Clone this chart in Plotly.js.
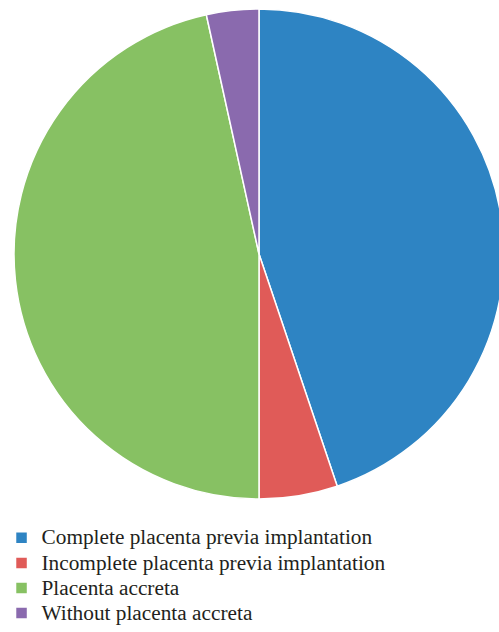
<!DOCTYPE html>
<html><head><meta charset="utf-8">
<script src="https://cdn.plot.ly/plotly-3.0.1.min.js"></script>
<style>html,body{margin:0;padding:0;overflow:hidden;background:#fff;width:499px;height:632px}
.legendtext{font-size:21.3px !important}</style>
</head><body><div id="chart"></div>
<script>
const categories = ["Complete placenta previa implantation","Incomplete placenta previa implantation","Placenta accreta","Without placenta accreta"];
const values = [26, 3, 27, 2];
const colors = ["#2e84c3","#e05b58","#87c163","#8a6aae"];

const data = [{
  type: "pie",
  labels: categories,
  values: values,
  sort: false,
  direction: "clockwise",
  rotation: 0,
  textinfo: "none",
  hoverinfo: "label+value",
  marker: {colors: colors, line: {color: "#ffffff", width: 1.5}},
  domain: {x: [0, 1], y: [0.2135, 1]}
}];
const layout = {
  width: 510, height: 632,
  margin: {l: 14, r: 6, t: 9, b: 0, autoexpand: false},
  paper_bgcolor: "#fff",
  showlegend: true,
  legend: {
    xref: "container", yref: "container",
    x: 0.003, y: 0.1768, xanchor: "left", yanchor: "top",
    font: {family: "Liberation Serif, serif", size: 17, color: "#231f20"},
    tracegroupgap: 0
  }
};
Plotly.newPlot("chart", data, layout, {displayModeBar: false, staticPlot: true});
</script></body></html>
